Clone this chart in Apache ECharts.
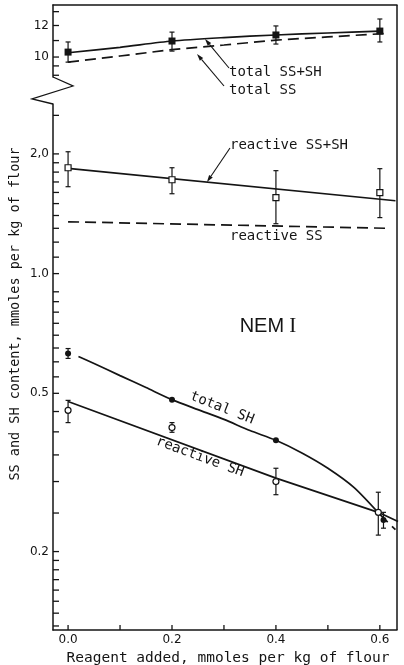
<!DOCTYPE html>
<html><head><meta charset="utf-8">
<script src="https://cdn.jsdelivr.net/npm/echarts@6/dist/echarts.min.js"></script>
<style>html,body{margin:0;padding:0;background:#fff}#c{width:404px;height:665px}</style>
</head><body><div id="c"></div>
<script>
// ---------- data ----------
const doses = [0, 0.2, 0.4, 0.6];
// upper panel (total)
const totalSSSH = [10.29, 10.97, 11.36, 11.62];
const totalSSSHLow = [9.71, 10.35, 10.78, 10.91];
const totalSSSHHigh = [10.91, 11.55, 11.97, 12.46];
const totalSSSHFitX = [0, 0.1, 0.2, 0.3, 0.4, 0.5, 0.6];
const totalSSSHFitY = [10.25, 10.58, 10.97, 11.19, 11.36, 11.49, 11.62];
const totalSSFitX = [0, 0.1, 0.2, 0.3, 0.4, 0.5, 0.615];
const totalSSFitY = [9.71, 10.06, 10.44, 10.72, 11.03, 11.23, 11.47];
// reactive SS+SH / SS
const reactiveSSSH = [1.846, 1.722, 1.552, 1.598];
const reactiveSSSHLow = [1.654, 1.588, 1.335, 1.383];
const reactiveSSSHHigh = [2.025, 1.846, 1.815, 1.836];
const reactiveSSSHFitX = [0, 0.63];
const reactiveSSSHFitY = [1.84, 1.525];
const reactiveSSFitX = [0, 0.615];
const reactiveSSFitY = [1.35, 1.30];
// SH
const totalSHX = [0, 0.2, 0.4, 0.607];
const totalSH = [0.630, 0.482, 0.381, 0.240];
const totalSHErrX = [0, 0.607];
const totalSHLow = [0.612, 0.229];
const totalSHHigh = [0.648, 0.251];
const totalSHFitX = [0.02, 0.05, 0.1, 0.15, 0.2, 0.25, 0.3, 0.35, 0.4, 0.45, 0.5, 0.55, 0.6];
const totalSHFitY = [0.619, 0.594, 0.554, 0.517, 0.482, 0.455, 0.430, 0.403, 0.381, 0.354, 0.324, 0.290, 0.248];
const totalSHTailX = [0.6, 0.63];
const totalSHTailY = [0.248, 0.227];
const reactiveSHX = [0, 0.2, 0.4, 0.597];
const reactiveSH = [0.453, 0.410, 0.300, 0.251];
const reactiveSHLow = [0.422, 0.399, 0.278, 0.220];
const reactiveSHHigh = [0.480, 0.422, 0.324, 0.282];
const reactiveSHFitX = [0, 0.4, 0.597, 0.635];
const reactiveSHFitY = [0.477, 0.306, 0.251, 0.238];
// ticks
const xTickValues = [0, 0.1, 0.2, 0.3, 0.4, 0.5, 0.6];
const xLabelValues = [0, 0.2, 0.4, 0.6];
const yUpperTicks = [9, 9.5, 10, 11, 12, 13];
const yUpperLabels = [10, 12];
const yLowerTicks = [0.13, 0.14, 0.15, 0.16, 0.17, 0.18, 0.19, 0.2, 0.25, 0.3, 0.35, 0.4, 0.45, 0.5,
  0.55, 0.6, 0.65, 0.7, 0.75, 0.8, 0.85, 0.9, 1, 1.1, 1.2, 1.3, 1.4, 1.5, 1.6, 1.7, 1.8, 1.9, 2, 2.5];
const yLowerLabels = [0.2, 0.5, 1, 2];
const yLowerLabelText = ['0.2', '0.5', '1.0', '2,0'];

// ---------- helpers ----------
const INK = '#141414';
const xMin = -0.029, xMax = 0.633;
const yUpMin = 8.91, yUpMax = 13.51, yLoMin = 0.127, yLoMax = 2.67;
const zip = (xs, ys) => xs.map((x, i) => [x, ys[i]]);
const zip3 = (xs, a, b) => xs.map((x, i) => [x, a[i], b[i]]);
function errRender(params, api) {
  const x = api.value(0), lo = api.value(1), hi = api.value(2);
  const p1 = api.coord([x, hi]), p2 = api.coord([x, lo]);
  const w = 2.5, st = {stroke: INK, lineWidth: 1.2};
  return {type: 'group', children: [
    {type: 'line', shape: {x1: p1[0], y1: p1[1], x2: p2[0], y2: p2[1]}, style: st},
    {type: 'line', shape: {x1: p1[0] - w, y1: p1[1], x2: p1[0] + w, y2: p1[1]}, style: st},
    {type: 'line', shape: {x1: p2[0] - w, y1: p2[1], x2: p2[0] + w, y2: p2[1]}, style: st}
  ]};
}
function errSeries(g, xs, lo, hi) {
  return {type: 'custom', xAxisIndex: g, yAxisIndex: g, renderItem: errRender, clip: false,
    data: zip3(xs, lo, hi), encode: {x: 0, y: [1, 2]}, z: 3, silent: true};
}
// axis ticks drawn through the axes' own scales (pointing inside)
function yTickSeries(g, values) {
  return {type: 'custom', xAxisIndex: g, yAxisIndex: g, clip: false, silent: true, z: 5,
    data: values.map(v => [xMin, v]), encode: {x: 0, y: 1},
    renderItem: (p, api) => {
      const c = api.coord([api.value(0), api.value(1)]);
      return {type: 'line', shape: {x1: c[0], y1: c[1], x2: c[0] + 6, y2: c[1]}, style: {stroke: INK, lineWidth: 1.3}};
    }};
}
function xTickSeries(g, values) {
  return {type: 'custom', xAxisIndex: g, yAxisIndex: g, clip: false, silent: true, z: 5,
    data: values.map(v => [v, yLoMin]), encode: {x: 0, y: 1},
    renderItem: (p, api) => {
      const c = api.coord([api.value(0), api.value(1)]);
      return {type: 'line', shape: {x1: c[0], y1: c[1], x2: c[0], y2: c[1] - 5}, style: {stroke: INK, lineWidth: 1.3}};
    }};
}
function lineSeries(g, xs, ys, dashed, smooth) {
  return {type: 'line', xAxisIndex: g, yAxisIndex: g, data: zip(xs, ys), showSymbol: false,
    smooth: smooth ? 0.25 : false, clip: false, z: 2, silent: true,
    lineStyle: {color: INK, width: 1.7, type: dashed ? [11, 6] : 'solid'}};
}
function markSeries(g, xs, ys, shape, open, size) {
  return {type: 'scatter', xAxisIndex: g, yAxisIndex: g, data: zip(xs, ys), symbol: shape,
    symbolSize: size, z: 4, silent: true, clip: false,
    itemStyle: {color: open ? '#fff' : INK, borderColor: INK, borderWidth: open ? 1.2 : 0, opacity: 1}};
}
function arrow(x1, y1, x2, y2) {
  const a = Math.atan2(y2 - y1, x2 - x1), L = 7, W = 2.2;
  const bx = x2 - L * Math.cos(a), by = y2 - L * Math.sin(a);
  const nx = -Math.sin(a) * W, ny = Math.cos(a) * W;
  return [
    {type: 'line', shape: {x1, y1, x2: bx, y2: by}, style: {stroke: INK, lineWidth: 1.1}},
    {type: 'polygon', shape: {points: [[x2, y2], [bx + nx, by + ny], [bx - nx, by - ny]]}, style: {fill: INK}}
  ];
}
const MONO = '"DejaVu Sans Mono", monospace';
function txt(x, y, s, size, rot, align) {
  return {type: 'text', x, y, rotation: rot || 0,
    style: {text: s, font: size + 'px ' + MONO, fill: INK, align: align || 'left', verticalAlign: 'middle'}};
}

const chart = echarts.init(document.getElementById('c'), null, {renderer: 'canvas'});
const axisLineStyle = {color: INK, width: 1.5};
const labelStyle = {fontFamily: 'DejaVu Sans', fontSize: 12, color: INK, margin: 4};
const option = {
  animation: false,
  backgroundColor: '#fff',
  grid: [
    {left: 53, right: 7, top: 5, height: 72, outerBoundsMode: 'none'},
    {left: 53, right: 7, top: 104, bottom: 35, outerBoundsMode: 'none'}
  ],
  xAxis: [
    {type: 'value', gridIndex: 0, min: xMin, max: xMax, position: 'top',
      axisLine: {show: true, onZero: false, lineStyle: axisLineStyle},
      axisTick: {show: false}, axisLabel: {show: false}, splitLine: {show: false}},
    {type: 'value', gridIndex: 1, min: xMin, max: xMax, position: 'bottom',
      axisLine: {show: true, onZero: false, lineStyle: axisLineStyle},
      axisTick: {show: false},
      axisLabel: Object.assign({show: true, customValues: xLabelValues, formatter: v => v.toFixed(1)}, labelStyle),
      splitLine: {show: false}}
  ],
  yAxis: [
    {type: 'log', logBase: 10, gridIndex: 0, min: yUpMin, max: yUpMax,
      axisLine: {show: true, onZero: false, lineStyle: axisLineStyle},
      axisTick: {show: false},
      axisLabel: Object.assign({show: true, customValues: yUpperLabels, formatter: v => String(Math.round(v))}, labelStyle),
      splitLine: {show: false}, minorTick: {show: false}},
    {type: 'log', logBase: 10, gridIndex: 1, min: yLoMin, max: yLoMax,
      axisLine: {show: true, onZero: false, lineStyle: axisLineStyle},
      axisTick: {show: false},
      axisLabel: Object.assign({show: true, customValues: yLowerLabels,
        formatter: v => {
          let best = 0;
          yLowerLabels.forEach((l, i) => { if (Math.abs(l - v) < Math.abs(yLowerLabels[best] - v)) best = i; });
          return yLowerLabelText[best];
        }}, labelStyle),
      splitLine: {show: false}, minorTick: {show: false}}
  ],
  series: [
    yTickSeries(0, yUpperTicks),
    yTickSeries(1, yLowerTicks),
    xTickSeries(1, xTickValues),
    // upper
    lineSeries(0, totalSSSHFitX, totalSSSHFitY, false, true),
    lineSeries(0, totalSSFitX, totalSSFitY, true, false),
    errSeries(0, doses, totalSSSHLow, totalSSSHHigh),
    markSeries(0, doses, totalSSSH, 'rect', false, 7),
    // reactive SS+SH, SS
    lineSeries(1, reactiveSSSHFitX, reactiveSSSHFitY, false, false),
    lineSeries(1, reactiveSSFitX, reactiveSSFitY, true, false),
    errSeries(1, doses, reactiveSSSHLow, reactiveSSSHHigh),
    markSeries(1, doses, reactiveSSSH, 'rect', true, 6),
    // total SH
    lineSeries(1, totalSHFitX, totalSHFitY, false, true),
    lineSeries(1, totalSHTailX, totalSHTailY, true, false),
    errSeries(1, totalSHErrX, totalSHLow, totalSHHigh),
    markSeries(1, totalSHX, totalSH, 'circle', false, 6),
    // reactive SH
    lineSeries(1, reactiveSHFitX, reactiveSHFitY, false, false),
    errSeries(1, reactiveSHX, reactiveSHLow, reactiveSHHigh),
    markSeries(1, reactiveSHX, reactiveSH, 'circle', true, 6)
  ]
};
chart.setOption(option);

// frame pieces, axis break and annotations
const g = [];
g.push({type: 'line', shape: {x1: 397, y1: 5, x2: 397, y2: 630}, style: {stroke: INK, lineWidth: 1.5}});
g.push({type: 'polyline', shape: {points: [[53, 77], [73, 86], [32, 99], [53, 104]]},
  style: {stroke: INK, lineWidth: 1.3, fill: null}});
g.push(...arrow(229, 68, 205, 39));
g.push(...arrow(224, 86, 197, 54));
g.push(...arrow(230, 148, 207, 182));
g.push(txt(229, 72, 'total SS+SH', 14));
g.push(txt(229, 90, 'total SS', 14));
g.push(txt(230, 145, 'reactive SS+SH', 14));
g.push(txt(230, 236, 'reactive SS', 14));
g.push(txt(222, 408, 'total SH', 14, -0.375, 'center'));
g.push(txt(200, 457, 'reactive SH', 14, -0.355, 'center'));
g.push({type: 'text', x: 268, y: 326, style: {
  text: '{a|NEM}{b| I}', align: 'center', verticalAlign: 'middle', fill: INK,
  rich: {a: {font: '20px "Liberation Sans"', fill: INK}, b: {font: '21px "Liberation Serif"', fill: INK}}}});
g.push(txt(15, 314, 'SS and SH content, mmoles per kg of flour', 13.5, Math.PI / 2, 'center'));
g.push(txt(228, 658, 'Reagent added, mmoles per kg of flour', 14.5, 0, 'center'));
chart.setOption({graphic: {elements: g}});
</script>
</body></html>
